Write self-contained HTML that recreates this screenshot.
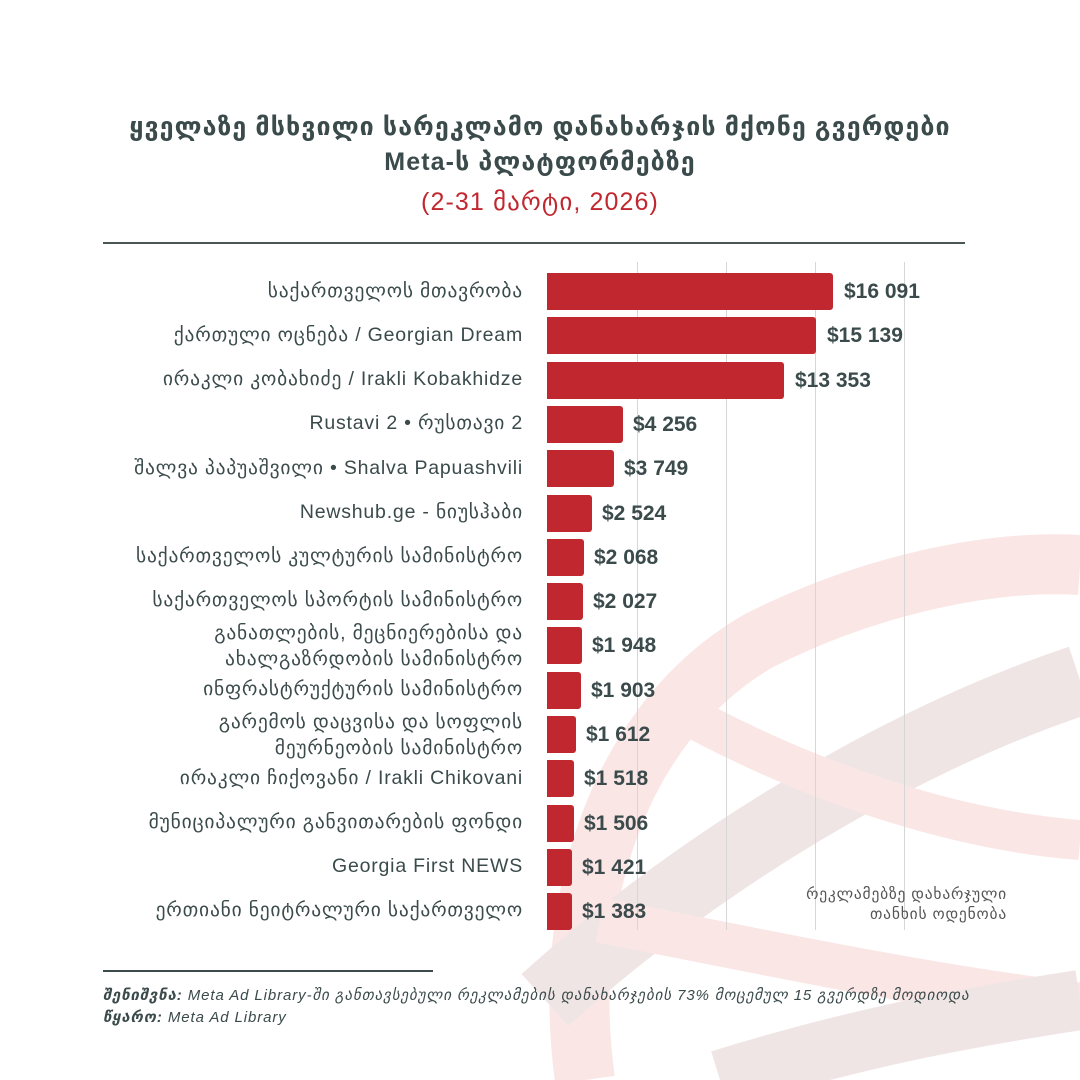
<!DOCTYPE html>
<html><head><meta charset="utf-8">
<style>
body{margin:0;width:1080px;height:1080px;background:#fff;position:relative;overflow:hidden;font-family:"Liberation Sans","DejaVu Sans",sans-serif;color:#3b4a4b}
.a{position:absolute}
.t{left:0;width:1080px;text-align:center;font-size:25px;font-weight:bold;letter-spacing:1.1px}
.lab{right:557px;text-align:right;font-size:19.5px;white-space:nowrap;line-height:26px;letter-spacing:0.8px}
.bar{left:547px;height:37px;background:#c1272f;border-radius:0 3px 3px 0}
.val{font-size:21px;font-weight:bold;white-space:nowrap;line-height:26px}
.g{top:262px;height:668px;width:1px;background:#d6d6d6}
</style></head><body>
<svg class="a" style="left:0;top:0" width="1080" height="1080">
<path d="M585 1080 C560 900 620 720 760 640 C880 580 1000 560 1080 565" stroke="#fbe6e6" stroke-width="60" fill="none"/>
<path d="M545 1000 C700 860 900 740 1080 680" stroke="#f0e5e5" stroke-width="70" fill="none"/>
<path d="M660 700 C800 780 950 830 1080 840" stroke="#fbe6e6" stroke-width="40" fill="none"/>
<path d="M600 920 C800 960 950 990 1080 1005" stroke="#fbe6e6" stroke-width="45" fill="none"/>
<path d="M720 1080 C850 1040 950 1020 1080 1000" stroke="#f0e5e5" stroke-width="60" fill="none"/>
</svg>
<div class="a t" style="top:112px">ყველაზე მსხვილი სარეკლამო დანახარჯის მქონე გვერდები</div>
<div class="a t" style="top:147px">Meta-ს პლატფორმებზე</div>
<div class="a t" style="top:187px;color:#c1272f;font-weight:normal">(2-31 მარტი, 2026)</div>
<div class="a" style="left:103px;top:242px;width:862px;height:2px;background:#4a5556"></div>
<div class="a g" style="left:637px"></div><div class="a g" style="left:726px"></div><div class="a g" style="left:815px"></div><div class="a g" style="left:904px"></div>
<div class="a bar" style="top:273px;width:286px"></div><div class="a val" style="top:279px;left:844px">$16 091</div><div class="a lab" style="top:278px">საქართველოს მთავრობა</div>
<div class="a bar" style="top:317px;width:269px"></div><div class="a val" style="top:323px;left:827px">$15 139</div><div class="a lab" style="top:322px">ქართული ოცნება / Georgian Dream</div>
<div class="a bar" style="top:362px;width:237px"></div><div class="a val" style="top:368px;left:795px">$13 353</div><div class="a lab" style="top:366px">ირაკლი კობახიძე / Irakli Kobakhidze</div>
<div class="a bar" style="top:406px;width:76px"></div><div class="a val" style="top:412px;left:633px">$4 256</div><div class="a lab" style="top:410px">Rustavi 2 • რუსთავი 2</div>
<div class="a bar" style="top:450px;width:67px"></div><div class="a val" style="top:456px;left:624px">$3 749</div><div class="a lab" style="top:455px">შალვა პაპუაშვილი • Shalva Papuashvili</div>
<div class="a bar" style="top:495px;width:45px"></div><div class="a val" style="top:501px;left:602px">$2 524</div><div class="a lab" style="top:499px">Newshub.ge - ნიუსჰაბი</div>
<div class="a bar" style="top:539px;width:37px"></div><div class="a val" style="top:545px;left:594px">$2 068</div><div class="a lab" style="top:543px">საქართველოს კულტურის სამინისტრო</div>
<div class="a bar" style="top:583px;width:36px"></div><div class="a val" style="top:589px;left:593px">$2 027</div><div class="a lab" style="top:587px">საქართველოს სპორტის სამინისტრო</div>
<div class="a bar" style="top:627px;width:35px"></div><div class="a val" style="top:633px;left:592px">$1 948</div><div class="a lab" style="top:620px">განათლების, მეცნიერებისა და<br>ახალგაზრდობის სამინისტრო</div>
<div class="a bar" style="top:672px;width:34px"></div><div class="a val" style="top:678px;left:591px">$1 903</div><div class="a lab" style="top:676px">ინფრასტრუქტურის სამინისტრო</div>
<div class="a bar" style="top:716px;width:29px"></div><div class="a val" style="top:722px;left:586px">$1 612</div><div class="a lab" style="top:709px">გარემოს დაცვისა და სოფლის<br>მეურნეობის სამინისტრო</div>
<div class="a bar" style="top:760px;width:27px"></div><div class="a val" style="top:766px;left:584px">$1 518</div><div class="a lab" style="top:765px">ირაკლი ჩიქოვანი / Irakli Chikovani</div>
<div class="a bar" style="top:805px;width:27px"></div><div class="a val" style="top:811px;left:584px">$1 506</div><div class="a lab" style="top:809px">მუნიციპალური განვითარების ფონდი</div>
<div class="a bar" style="top:849px;width:25px"></div><div class="a val" style="top:855px;left:582px">$1 421</div><div class="a lab" style="top:853px">Georgia First NEWS</div>
<div class="a bar" style="top:893px;width:25px"></div><div class="a val" style="top:899px;left:582px">$1 383</div><div class="a lab" style="top:897px">ერთიანი ნეიტრალური საქართველო</div>
<div class="a" style="right:73px;top:885px;text-align:right;font-size:15.5px;line-height:20px;color:#555;letter-spacing:0.8px">რეკლამებზე დახარჯული<br>თანხის ოდენობა</div>
<div class="a" style="left:103px;top:970px;width:330px;height:2px;background:#3b4a4b"></div>
<div class="a" style="left:103px;top:986px;font-size:15px;font-style:italic;white-space:nowrap;letter-spacing:0.9px"><b>შენიშვნა:</b> Meta Ad Library-ში განთავსებული რეკლამების დანახარჯების 73% მოცემულ 15 გვერდზე მოდიოდა</div>
<div class="a" style="left:103px;top:1008px;font-size:15px;font-style:italic;letter-spacing:0.9px"><b>წყარო:</b> Meta Ad Library</div>
</body></html>
